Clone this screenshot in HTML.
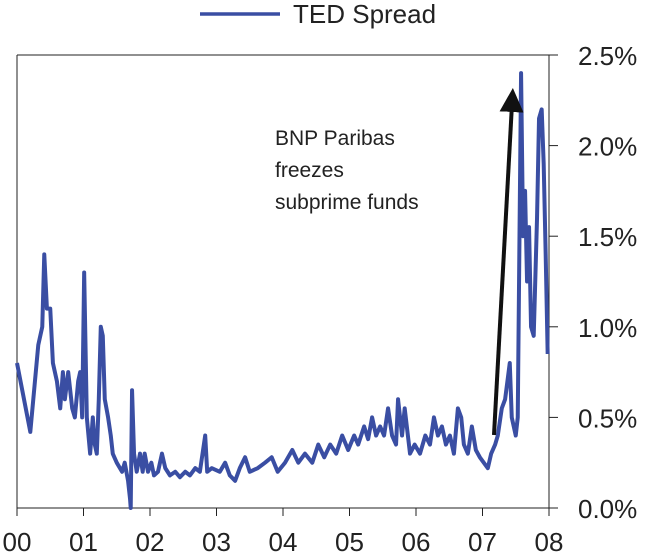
<!DOCTYPE html>
<html><head><meta charset="utf-8"><style>
body{margin:0;background:#fff;}
svg{display:block;font-family:"Liberation Sans",sans-serif;}
</style></head><body>
<svg id="c" width="653" height="559">
<defs><marker id="ah" markerWidth="6" markerHeight="6" refX="2" refY="3" orient="auto" markerUnits="strokeWidth"><path d="M0,0 L6,3 L0,6 z" fill="#111"/></marker></defs>
</svg>
<script>
const yearT=[0,0.20,0.32,0.38,0.41,0.45,0.50,0.54,0.60,0.65,0.69,0.72,0.77,0.83,0.87,0.92,0.95,0.98,1.01,1.04,1.05,1.10,1.14,1.17,1.20,1.23,1.26,1.29,1.32,1.37,1.41,1.44,1.50,1.58,1.62,1.67,1.70,1.71,1.73,1.76,1.80,1.85,1.89,1.92,1.97,2.02,2.06,2.12,2.18,2.23,2.30,2.38,2.45,2.53,2.60,2.68,2.75,2.83,2.86,2.93,3.05,3.13,3.20,3.28,3.35,3.43,3.50,3.62,3.73,3.83,3.92,4.03,4.14,4.23,4.33,4.44,4.53,4.62,4.71,4.80,4.89,4.98,5.07,5.13,5.22,5.28,5.34,5.40,5.46,5.52,5.58,5.64,5.70,5.73,5.79,5.83,5.91,5.98,6.06,6.14,6.21,6.27,6.33,6.39,6.45,6.51,6.57,6.63,6.68,6.72,6.78,6.84,6.90,6.96,7.08,7.13,7.19,7.23,7.29,7.34,7.41,7.44,7.50,7.53,7.58,7.61,7.64,7.67,7.70,7.73,7.77,7.82,7.85,7.89,7.92,7.95,7.98];
const spread=[0.8,0.42,0.9,1.0,1.4,1.1,1.1,0.8,0.7,0.55,0.75,0.6,0.75,0.55,0.5,0.7,0.75,0.5,1.3,0.7,0.5,0.3,0.5,0.35,0.3,0.6,1.0,0.95,0.6,0.5,0.4,0.3,0.25,0.2,0.25,0.15,0.05,0.0,0.65,0.3,0.2,0.3,0.2,0.3,0.2,0.25,0.18,0.2,0.3,0.22,0.18,0.2,0.17,0.2,0.18,0.22,0.2,0.4,0.2,0.22,0.2,0.25,0.18,0.15,0.22,0.28,0.2,0.22,0.25,0.28,0.2,0.25,0.32,0.25,0.3,0.25,0.35,0.28,0.35,0.3,0.4,0.32,0.4,0.35,0.45,0.38,0.5,0.4,0.45,0.4,0.55,0.4,0.35,0.6,0.4,0.55,0.3,0.35,0.3,0.4,0.35,0.5,0.4,0.45,0.35,0.4,0.3,0.55,0.5,0.35,0.3,0.45,0.32,0.28,0.22,0.3,0.35,0.4,0.55,0.6,0.8,0.5,0.4,0.5,2.4,1.5,1.75,1.25,1.55,1.0,0.95,1.6,2.15,2.2,1.9,1.4,0.85];
const xTicks=["00","01","02","03","04","05","06","07","08"];
const yTicks=[0,0.5,1.0,1.5,2.0,2.5];
const yTickLabels=["0.0%","0.5%","1.0%","1.5%","2.0%","2.5%"];

const svg=document.getElementById('c');
const NS='http://www.w3.org/2000/svg';
const X0=17,X1=549,Y0=508,Y1=55;
const xs=t=>X0+t*(X1-X0)/8;
const ys=v=>Y0-v*(Y0-Y1)/2.5;
function mk(tag,attrs,parent){const e=document.createElementNS(NS,tag);for(const k in attrs)e.setAttribute(k,attrs[k]);(parent||svg).appendChild(e);return e;}

let fr=mk('path',{d:`M${X0},${Y1} L${X1},${Y1} M${X0},${Y1} L${X0},${Y0} L${X1},${Y0} M${X1},${Y1} L${X1},${Y0}`,stroke:'#222','stroke-width':1,fill:'none'});



xTicks.forEach((l,i)=>{
  const x=xs(i);
  const t=mk('line',{x1:x,x2:x,y1:Y0,y2:Y0+8,stroke:'#222','stroke-width':1});
  
  
  const tx=mk('text',{x:x,y:Y0+43,'font-size':26,'text-anchor':'middle',fill:'#222'});
  tx.textContent=l;
  
  
});
yTicks.forEach((v,i)=>{
  const y=ys(v);
  const t=mk('line',{x1:X1,x2:X1+9,y1:y,y2:y,stroke:'#222','stroke-width':1});
  
  
  const tx=mk('text',{x:578,y:y+10,'font-size':26,fill:'#222'});
  tx.textContent=yTickLabels[i];
  
  
});

const ln=mk('polyline',{points:yearT.map((t,i)=>xs(t)+','+ys(spread[i])).join(' '),fill:'none',stroke:'#3a4ea3','stroke-width':4,'stroke-linejoin':'round'});



const ar=mk('line',{x1:494,y1:435,x2:512,y2:104,stroke:'#111','stroke-width':4,'marker-end':'url(#ah)'});



const ann=mk('text',{x:275,y:145,'font-size':21,fill:'#222'});


["BNP Paribas","freezes","subprime funds"].forEach((s,i)=>{const ts=mk('tspan',{x:275,dy:i?32:0},ann);ts.textContent=s;});

const lg=mk('line',{x1:200,x2:280,y1:14,y2:14,stroke:'#3a4ea3','stroke-width':3.5});


const lt=mk('text',{x:293,y:23,'font-size':26,fill:'#222'});
lt.textContent='TED Spread';


</script>
</body></html>
